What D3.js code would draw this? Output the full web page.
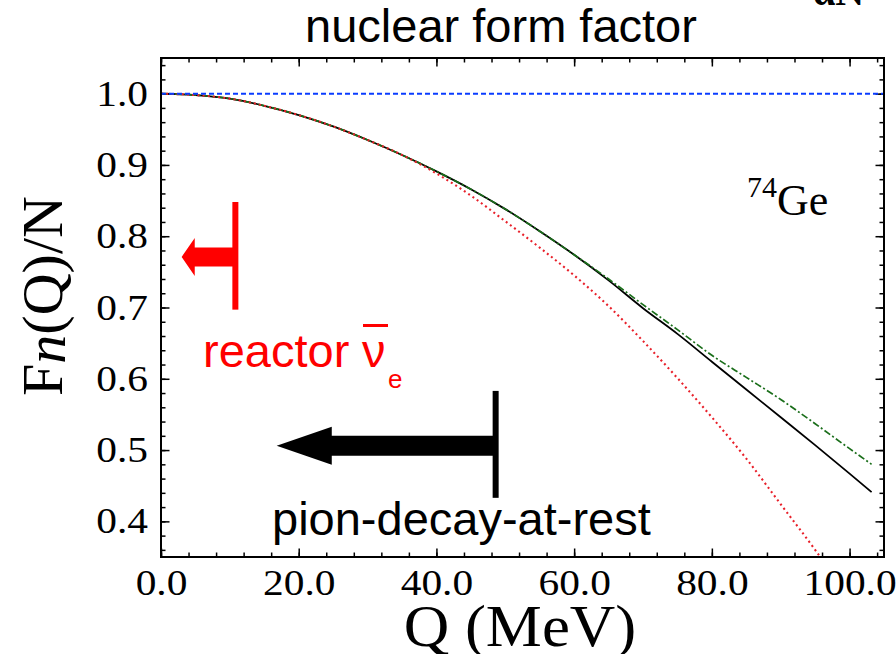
<!DOCTYPE html>
<html>
<head>
<meta charset="utf-8">
<script src="https://cdn.jsdelivr.net/npm/d3@7"></script>
<style>
    body { margin: 0; background: #fff; }
    #chart { width: 896px; height: 654px; }
    .tick text { font-family: "Liberation Serif", serif; }
</style>
</head>
<body>
<div id="chart"></div>
<script>

// momentum transfer grid (MeV)
let qValues = [0, 5, 10, 15, 20, 25, 30, 35, 40, 45, 50, 55, 60, 65, 70, 75, 80, 85, 90, 95, 100, 103.2];

// F_n(Q)/N for 74Ge, one array per curve
let fullCurve  = [1.000, 0.998, 0.993, 0.983, 0.970, 0.954, 0.935, 0.914, 0.891, 0.866, 0.838, 0.807, 0.774, 0.738, 0.699, 0.663, 0.624, 0.585, 0.546, 0.507, 0.467, 0.441];
let dashDotCurve = [1.000, 0.998, 0.993, 0.983, 0.970, 0.954, 0.935, 0.914, 0.891, 0.866, 0.838, 0.807, 0.774, 0.740, 0.704, 0.669, 0.633, 0.602, 0.571, 0.537, 0.502, 0.480];
let dottedQ = [0, 5, 10, 15, 20, 25, 30, 35, 40, 45, 50, 55, 60, 65, 70, 75, 80, 85, 90, 95, 100];
let dottedCurve = [1.000, 0.998, 0.993, 0.983, 0.970, 0.954, 0.935, 0.914, 0.888, 0.857, 0.821, 0.784, 0.745, 0.702, 0.653, 0.601, 0.546, 0.488, 0.424, 0.360, 0.290];
let unityQ = [0, 105];
let unityCurve = [1.0, 1.0];

// ticks
let xMajorTicks = [0, 20, 40, 60, 80, 100];
let xMinorTicks = [0, 4, 8, 12, 16, 20, 24, 28, 32, 36, 40, 44, 48, 52, 56, 60, 64, 68, 72, 76, 80, 84, 88, 92, 96, 100, 104];
let yMajorTicks = [0.4, 0.5, 0.6, 0.7, 0.8, 0.9, 1.0];
let yMinorTicks = [0.36, 0.38, 0.40, 0.42, 0.44, 0.46, 0.48, 0.50, 0.52, 0.54, 0.56, 0.58, 0.60, 0.62, 0.64, 0.66, 0.68, 0.70,
                   0.72, 0.74, 0.76, 0.78, 0.80, 0.82, 0.84, 0.86, 0.88, 0.90, 0.92, 0.94, 0.96, 0.98, 1.00, 1.02, 1.04];

// kinematic reach markers: [Q of the bar, F bottom, F top, F of arrow, Q of arrow tip, Q of head base]
let reactorMark = [10.8, 0.697, 0.848, 0.771, 3.0, 4.9];
let pionMark = [48.6, 0.433, 0.583, 0.506, 16.8, 24.8];


class FormFactorChart {

    constructor(parentElement) {
        this.parentElement = parentElement;
        this.series = [
            {name: "full", q: qValues, f: fullCurve, color: "#000", width: 1.8, dash: null},
            {name: "dashdot", q: qValues, f: dashDotCurve, color: "#1a6e1a", width: 1.7, dash: "7,2.5,2,2.5"},
            {name: "dotted", q: dottedQ, f: dottedCurve, color: "#e8202a", width: 2.1, dash: "2,3.2"},
            {name: "unity", q: unityQ, f: unityCurve, color: "#0a3cff", width: 2, dash: "5,3"}
        ];
        this.initVis();
    }

    initVis() {
        let vis = this;

        vis.margin = {top: 58, right: 12, bottom: 97, left: 161};
        vis.width = 896 - vis.margin.left - vis.margin.right;
        vis.height = 654 - vis.margin.top - vis.margin.bottom;

        vis.svg = d3.select("#" + vis.parentElement)
            .append("svg")
            .attr("width", 896)
            .attr("height", 654);

        vis.g = vis.svg.append("g")
            .attr("transform", `translate(${vis.margin.left},${vis.margin.top})`);

        vis.x = d3.scaleLinear().domain([0, 105]).range([0, vis.width]);
        vis.y = d3.scaleLinear().domain([0.35, 1.05]).range([vis.height, 0]);

        vis.svg.append("defs").append("clipPath")
            .attr("id", "plot-clip")
            .append("rect")
            .attr("width", vis.width)
            .attr("height", vis.height);

        vis.updateVis();
    }

    // widen serif text a little, the original font is broader than Times
    stretch(sel, k) {
        sel.each(function() {
            let w = this.getComputedTextLength();
            d3.select(this).attr("textLength", w * k).attr("lengthAdjust", "spacingAndGlyphs");
        });
    }

    updateVis() {
        let vis = this;
        let fmt = d3.format(".1f");

        // minor ticks on all four sides (no labels)
        let minor = [
            d3.axisBottom(vis.x).tickValues(xMinorTicks),
            d3.axisTop(vis.x).tickValues(xMinorTicks),
            d3.axisLeft(vis.y).tickValues(yMinorTicks),
            d3.axisRight(vis.y).tickValues(yMinorTicks)
        ].map(a => a.tickSizeInner(-4.5).tickFormat(""));

        let major = [
            d3.axisBottom(vis.x).tickValues(xMajorTicks).tickSizeInner(-8.5).tickPadding(12).tickFormat(fmt),
            d3.axisTop(vis.x).tickValues(xMajorTicks).tickSizeInner(-8.5).tickFormat(""),
            d3.axisLeft(vis.y).tickValues(yMajorTicks).tickSizeInner(-8.5).tickPadding(13).tickFormat(fmt),
            d3.axisRight(vis.y).tickValues(yMajorTicks).tickSizeInner(-8.5).tickFormat("")
        ];
        let offsets = [`translate(0,${vis.height})`, "translate(0,0)", "translate(0,0)", `translate(${vis.width},0)`];

        minor.concat(major).forEach(function(axis, i) {
            let a = vis.g.append("g")
                .attr("transform", offsets[i % 4])
                .call(axis.tickSizeOuter(0));
            a.select(".domain").remove();
            a.selectAll(".tick line").attr("stroke", "#000").attr("stroke-width", 1.5);
            a.selectAll(".tick text").attr("font-size", 36).attr("fill", "#000");
        });
        vis.stretch(vis.g.selectAll(".tick text").filter(function() { return this.textContent !== ""; }), 1.15);

        // curves
        let line = d3.line()
            .x(d => vis.x(d[0]))
            .y(d => vis.y(d[1]))
            .curve(d3.curveMonotoneX);

        vis.g.append("g")
            .attr("clip-path", "url(#plot-clip)")
            .selectAll("path.curve")
            .data(vis.series)
            .enter()
            .append("path")
            .attr("class", "curve")
            .attr("d", s => line(s.q.map((q, i) => [q, s.f[i]])))
            .attr("fill", "none")
            .attr("stroke", s => s.color)
            .attr("stroke-width", s => s.width)
            .attr("stroke-dasharray", s => s.dash);

        // frame
        vis.g.append("rect")
            .attr("width", vis.width)
            .attr("height", vis.height)
            .attr("fill", "none")
            .attr("stroke", "#000")
            .attr("stroke-width", 2);

        vis.drawMarker(reactorMark, "#ff0000", 19, 38, 6);
        vis.drawMarker(pionMark, "#000", 20, 38, 6);

        // texts
        vis.svg.append("text")
            .attr("x", 501).attr("y", 42)
            .attr("text-anchor", "middle")
            .attr("font-family", "Liberation Sans, Arial, sans-serif")
            .attr("font-size", 47)
            .text("nuclear form factor");

        vis.svg.append("text")
            .attr("x", 813).attr("y", 5)
            .attr("font-family", "Liberation Serif, serif")
            .attr("font-weight", "bold")
            .attr("font-size", 40)
            .text("αN");

        vis.svg.append("text")
            .attr("x", 272).attr("y", 535)
            .attr("font-family", "Liberation Sans, Arial, sans-serif")
            .attr("font-size", 47)
            .text("pion-decay-at-rest");

        let reactor = vis.svg.append("g").attr("fill", "#ff0000")
            .attr("font-family", "Liberation Sans, Arial, sans-serif");
        reactor.append("text").attr("x", 203).attr("y", 367).attr("font-size", 47).text("reactor");
        reactor.append("text").attr("x", 362).attr("y", 367).attr("font-size", 47).text("ν");
        reactor.append("rect").attr("x", 363).attr("y", 324).attr("width", 25).attr("height", 3);
        reactor.append("text").attr("x", 388).attr("y", 388).attr("font-size", 26).text("e");

        let ge = vis.svg.append("g").attr("font-family", "Liberation Serif, serif");
        ge.append("text").attr("x", 747).attr("y", 197).attr("font-size", 30).text("74");
        ge.append("text").attr("x", 777).attr("y", 215).attr("font-size", 44).text("Ge");

        // axis titles
        let yl = vis.svg.append("text")
            .attr("transform", "translate(62,296) rotate(-90)")
            .attr("text-anchor", "middle")
            .attr("font-family", "Liberation Serif, serif")
            .attr("font-size", 58);
        yl.append("tspan").text("F");
        yl.append("tspan").attr("font-style", "italic").attr("dy", 3).text("n");
        yl.append("tspan").attr("dy", -3).text("(Q)/N");

        let xl = vis.svg.append("text")
            .attr("x", 520).attr("y", 646)
            .attr("text-anchor", "middle")
            .attr("font-family", "Liberation Serif, serif")
            .attr("font-size", 60)
            .text("Q (MeV)");
        vis.stretch(xl, 1.05);
    }

    drawMarker(m, color, shaft, head, bar) {
        let vis = this;
        let bx = vis.x(m[0]), yc = vis.y(m[3]);
        let tip = vis.x(m[4]), hb = vis.x(m[5]);
        let g = vis.g.append("g").attr("fill", color);

        g.append("rect")
            .attr("x", bx - bar / 2)
            .attr("y", vis.y(m[2]))
            .attr("width", bar)
            .attr("height", vis.y(m[1]) - vis.y(m[2]));

        g.append("path")
            .attr("d", `M${bx},${yc - shaft / 2} L${hb},${yc - shaft / 2} L${hb},${yc - head / 2} L${tip},${yc}` +
                       ` L${hb},${yc + head / 2} L${hb},${yc + shaft / 2} L${bx},${yc + shaft / 2} Z`);
    }
}

new FormFactorChart("chart");

</script>
</body>
</html>
